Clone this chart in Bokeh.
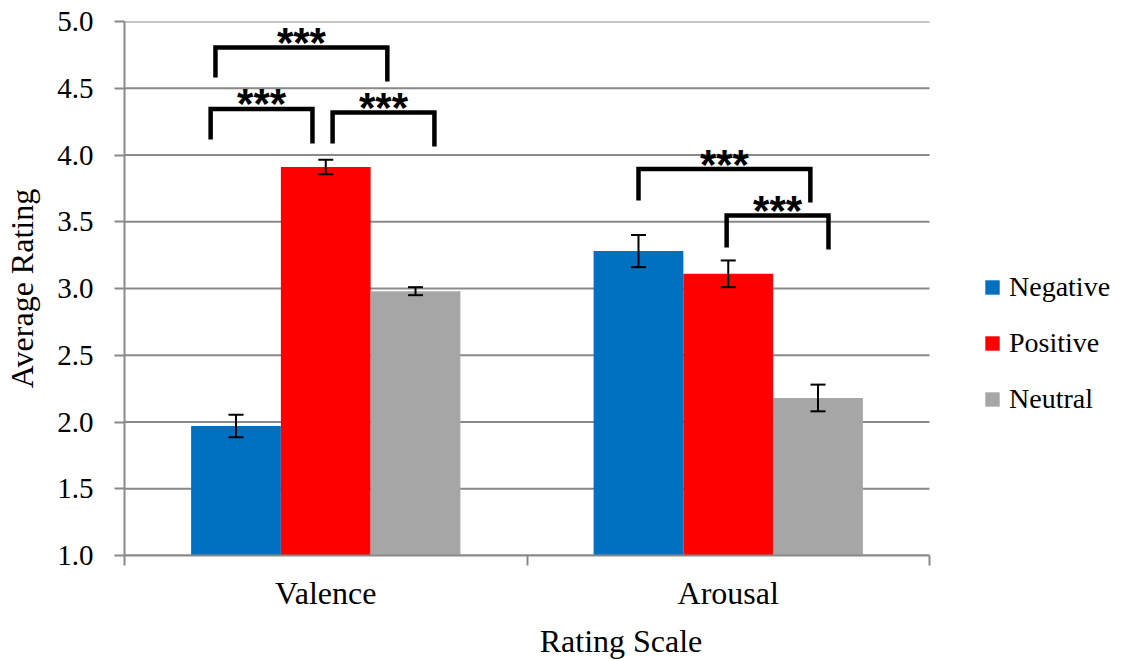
from bokeh.plotting import figure
from bokeh.models import (ColumnDataSource, FixedTicker, Legend, LegendItem, Whisker, TeeHead,
                          NumeralTickFormatter)
from bokeh.core.properties import value
from bokeh.embed import file_html
from bokeh.resources import INLINE

# ---------------- data ----------------
categories = ["Valence", "Arousal"]
series = ["Negative", "Positive", "Neutral"]
colors = ["#0070C0", "#FF0000", "#A6A6A6"]
negative = [1.97, 3.28]
positive = [3.91, 3.11]
neutral = [2.98, 2.18]
negative_err = [0.085, 0.12]
positive_err = [0.055, 0.10]
neutral_err = [0.03, 0.10]
y_ticks = [1.0, 1.5, 2.0, 2.5, 3.0, 3.5, 4.0, 4.5, 5.0]

# significance brackets (x in category units, y in rating units)
br_x0 = [0.226, 0.214, 0.517, 1.277, 1.496]
br_x1 = [0.653, 0.467, 0.770, 1.704, 1.749]
br_y = [4.805, 4.345, 4.318, 3.895, 3.547]
br_yl = [4.58, 4.116, 4.086, 3.659, 3.307]
br_yr = [4.55, 4.086, 4.064, 3.644, 3.292]
br_text = ["***"] * 5

FONT = "Liberation Serif"
GRAY = "#898989"

W, H = 1117, 661
LEFT, TOP, BOTTOM = 124, 21, 106
n_cat = len(categories)
cat_px = 402.5                       # pixel width of one category slot
x_end = (W - LEFT) / cat_px          # extra room on the right holds the legend

p = figure(width=W, height=H, x_range=(0, x_end), y_range=(1, 5),
           output_backend="svg", toolbar_location=None,
           min_border_left=LEFT, min_border_right=0, min_border_top=TOP, min_border_bottom=BOTTOM)
p.outline_line_color = None
p.background_fill_color = "white"
p.xgrid.grid_line_color = None
p.ygrid.grid_line_color = None

# horizontal grid lines limited to the category area
p.segment(x0=[0] * len(y_ticks), x1=[n_cat] * len(y_ticks), y0=y_ticks, y1=y_ticks,
          line_color=GRAY, line_width=2, level="underlay")

values = [negative, positive, neutral]
errs = [negative_err, positive_err, neutral_err]
bar_w = 0.223
offsets = [-bar_w, 0.0, bar_w]
renderers = []
for s, vals, er, col, off in zip(series, values, errs, colors, offsets):
    xs = [i + 0.5 + off for i in range(n_cat)]
    src = ColumnDataSource(dict(x=xs, top=vals,
                                upper=[v + e for v, e in zip(vals, er)],
                                lower=[v - e for v, e in zip(vals, er)]))
    r = p.vbar(x="x", top="top", bottom=1, width=bar_w, source=src,
               fill_color=col, line_color=None)
    renderers.append(r)
    w = Whisker(base="x", upper="upper", lower="lower", source=src,
                line_color="black", line_width=2, level="overlay",
                upper_head=TeeHead(size=15, line_width=2, line_color="black"),
                lower_head=TeeHead(size=15, line_width=2, line_color="black"))
    p.add_layout(w)

# brackets
xs_list, ys_list = [], []
for x0, x1, y, yl, yr in zip(br_x0, br_x1, br_y, br_yl, br_yr):
    xs_list.append([x0, x0, x1, x1])
    ys_list.append([yl, y, y, yr])
p.multi_line(xs_list, ys_list, line_color="black", line_width=4.5, line_join="miter")
p.text(x=[(a + b) / 2 for a, b in zip(br_x0, br_x1)], y=br_y, text=br_text,
       text_font=value("Liberation Sans"), text_font_size="42px", text_font_style="bold",
       text_align="center", text_baseline="alphabetic", y_offset=-5, text_color="black")

# axes
yax = p.yaxis[0]
yax.ticker = FixedTicker(ticks=y_ticks)
yax.formatter = NumeralTickFormatter(format="0.0")
yax.major_label_text_font = FONT
yax.major_label_text_font_size = "29px"
yax.major_label_text_color = "black"
yax.major_tick_out = 10
yax.major_tick_in = 0
yax.minor_tick_out = 0
yax.minor_tick_in = 0
yax.major_tick_line_color = GRAY
yax.major_tick_line_width = 2
yax.axis_line_color = GRAY
yax.axis_line_width = 2
yax.major_label_standoff = 21
yax.axis_label = "Average Rating"
yax.axis_label_text_font = FONT
yax.axis_label_text_font_size = "32px"
yax.axis_label_text_font_style = "normal"
yax.axis_label_text_color = "black"
yax.axis_label_standoff = 14

xax = p.xaxis[0]
xax.bounds = (0, n_cat)
xax.ticker = FixedTicker(ticks=[i + 0.5 for i in range(n_cat)],
                         minor_ticks=[float(i) for i in range(n_cat + 1)])
xax.major_label_overrides = {i + 0.5: c for i, c in enumerate(categories)}
xax.major_label_text_font = FONT
xax.major_label_text_font_size = "32px"
xax.major_label_text_color = "black"
xax.major_tick_out = 0
xax.major_tick_in = 0
xax.minor_tick_out = 10
xax.minor_tick_in = 0
xax.minor_tick_line_color = GRAY
xax.minor_tick_line_width = 2
xax.axis_line_color = GRAY
xax.axis_line_width = 2
xax.major_label_standoff = 9
xax.axis_label = "Rating Scale"
xax.axis_label_text_font = FONT
xax.axis_label_text_font_size = "32px"
xax.axis_label_text_font_style = "normal"
xax.axis_label_text_color = "black"
xax.axis_label_standoff = 9

legend = Legend(items=[LegendItem(label=s, renderers=[r]) for s, r in zip(series, renderers)],
                location=(859, 140), padding=0, margin=0, border_line_color=None,
                background_fill_alpha=0, glyph_width=18, glyph_height=18,
                label_height=30, spacing=24, label_standoff=8,
                label_text_font=FONT, label_text_font_size="28px", label_text_color="black")
p.add_layout(legend, "center")

open("out.html", "w").write(file_html(p, INLINE))
